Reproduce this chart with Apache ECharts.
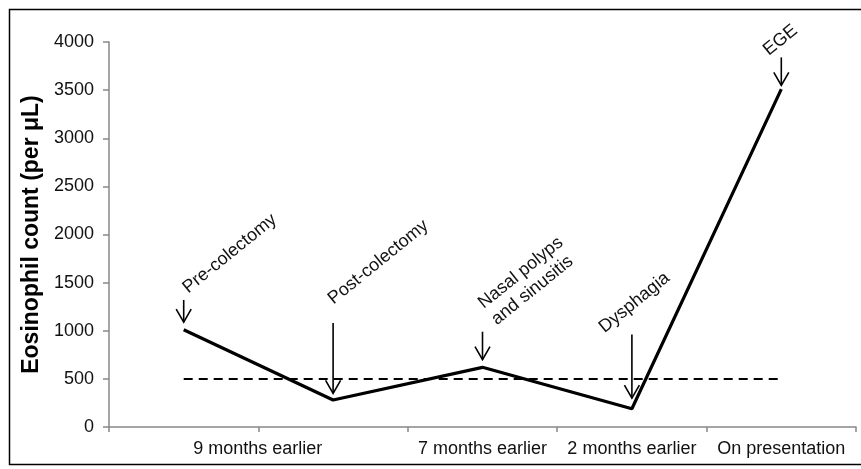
<!DOCTYPE html>
<html>
<head>
<meta charset="utf-8">
<script src="https://cdn.jsdelivr.net/npm/echarts@6/dist/echarts.min.js"></script>
<style>
html,body{margin:0;padding:0;background:#fff;}
#chart{width:861px;height:469px;}
</style>
</head>
<body>
<div id="chart"></div>
<script>
// ---- data ----
const xLabels = ['9 months earlier', '', '7 months earlier', '2 months earlier', 'On presentation'];
const eosinophilCount = [1010, 280, 620, 190, 3510];
const thresholdLine = [500, 500, 500, 500, 500];
const eventLabels = ['Pre-colectomy', 'Post-colectomy', 'Nasal polyps\nand sinusitis', 'Dysphagia', 'EGE'];
const arrowTop = [1320, 1080, 990, 960, 3840];
const arrowTip = [1090, 350, 700, 300, 3550];
const yMin = 0, yMax = 4000, yStep = 500;
const yTitle = 'Eosinophil count (per μL)';

// ---- layout / style (not data) ----
const FONT = "'Liberation Sans',Arial,sans-serif";
const labelOffset = [[8, -2], [4, -14], [18, -2], [-24, 3], [-9, 3]];
const textAngle = 39 * Math.PI / 180;

const chart = echarts.init(document.getElementById('chart'));
chart.setOption({
  animation: false,
  backgroundColor: '#fff',
  grid: {left: 109, right: 5, top: 42, bottom: 42, containLabel: false},
  graphic: [{
    type: 'rect', left: 7, top: 7, z: 100, silent: true,
    shape: {width: 880, height: 455},
    style: {fill: null, stroke: '#000', lineWidth: 1.5}
  }],
  xAxis: {
    type: 'category',
    data: xLabels,
    boundaryGap: true,
    axisLine: {lineStyle: {color: '#888', width: 1.5}},
    axisTick: {show: true, interval: 0, length: 5, lineStyle: {color: '#888', width: 1.5}},
    axisLabel: {
      interval: 0, margin: 13, color: '#111', fontSize: 18, fontFamily: FONT,
      formatter: function (v, i) { return i === 0 ? '{s|' + v + '}' : v; },
      rich: {s: {padding: [0, 0, 0, 148], fontSize: 18, fontFamily: FONT, color: '#111'}}
    },
    splitLine: {show: false}
  },
  yAxis: {
    type: 'value', min: yMin, max: yMax, interval: yStep,
    name: yTitle, nameLocation: 'middle', nameRotate: 90, nameGap: 58,
    nameTextStyle: {fontSize: 23, fontWeight: 'bold', color: '#000', fontFamily: FONT},
    axisLine: {show: true, lineStyle: {color: '#888', width: 1.5}},
    axisTick: {show: true, length: 6, lineStyle: {color: '#888', width: 1.5}},
    axisLabel: {margin: 15, color: '#111', fontSize: 18, fontFamily: FONT,
                formatter: function (v) { return String(v); }},
    splitLine: {show: false}
  },
  series: [
    {
      type: 'line', data: eosinophilCount, symbol: 'none',
      lineStyle: {color: '#000', width: 3.2}, z: 3
    },
    {
      type: 'line', data: thresholdLine, symbol: 'none',
      lineStyle: {color: '#000', width: 2, type: [9, 6]}, z: 2
    },
    {
      type: 'custom', clip: false, silent: true, z: 4,
      data: eventLabels.map((_, i) => [i, arrowTip[i], arrowTop[i]]),
      encode: {x: 0, y: 1},
      renderItem: function (params, api) {
        const i = params.dataIndex;
        const tip = api.coord([api.value(0), api.value(1)]);
        const top = api.coord([api.value(0), api.value(2)]);
        const off = labelOffset[i];
        return {
          type: 'group',
          children: [
            {type: 'line', shape: {x1: top[0], y1: top[1], x2: tip[0], y2: tip[1]},
             style: {stroke: '#000', lineWidth: 1.6}},
            {type: 'polyline', shape: {points: [[tip[0] - 7.5, tip[1] - 13], [tip[0], tip[1]], [tip[0] + 7.5, tip[1] - 13]]},
             style: {stroke: '#000', lineWidth: 1.6, fill: null}},
            {type: 'text', x: top[0] + off[0], y: top[1] + off[1], rotation: textAngle,
             style: {text: eventLabels[i], fill: '#111', fontSize: 18, fontFamily: FONT,
                     align: 'left', verticalAlign: 'bottom', lineHeight: 21}}
          ]
        };
      }
    }
  ]
});
</script>
</body>
</html>
